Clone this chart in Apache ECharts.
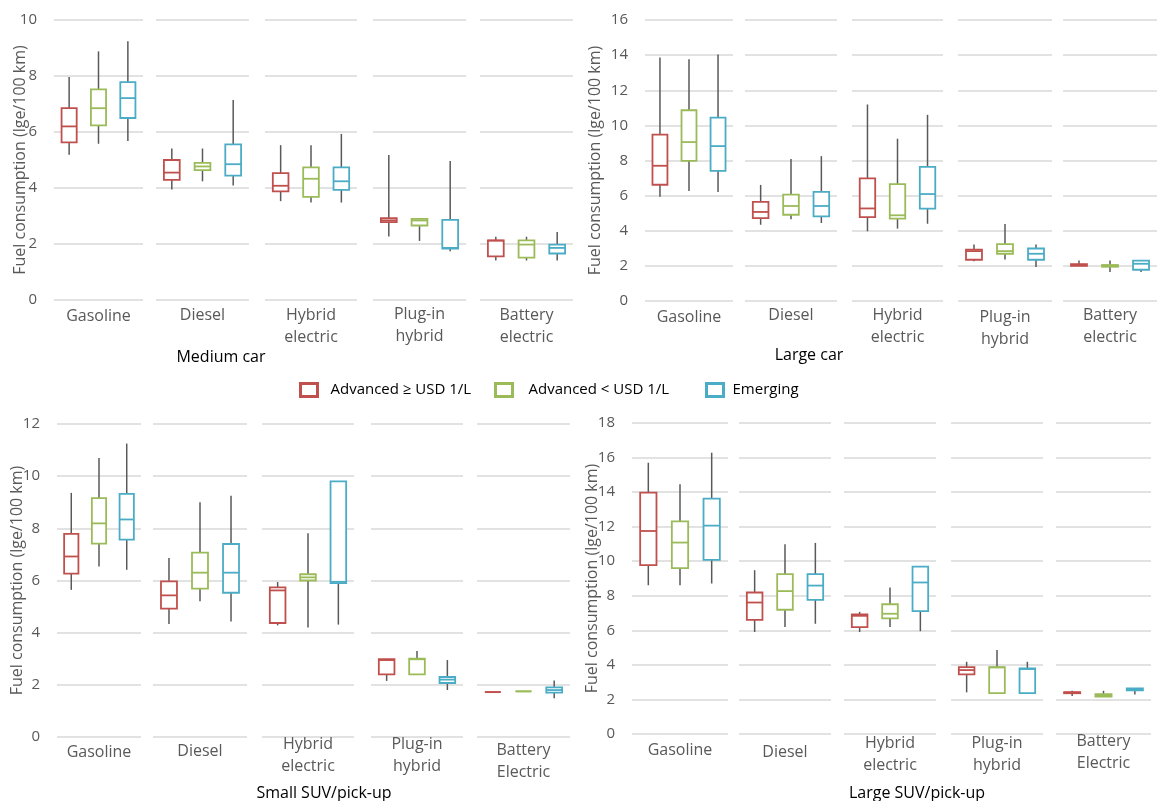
<!DOCTYPE html>
<html><head><meta charset="utf-8">
<script src="https://cdn.jsdelivr.net/npm/echarts@6/dist/echarts.min.js"></script>
<style>html,body{margin:0;padding:0;background:#fff}#c{width:1157px;height:801px}</style>
</head><body><div id="c"></div>
<script>
// ---------- DATA ----------
const categoriesCar = ['Gasoline', 'Diesel', 'Hybrid\nelectric', 'Plug-in\nhybrid', 'Battery\nelectric'];
const categoriesSuv = ['Gasoline', 'Diesel', 'Hybrid\nelectric', 'Plug-in\nhybrid', 'Battery\nElectric'];
const regions = ['Advanced ≥ USD 1/L', 'Advanced < USD 1/L', 'Emerging'];
const panelTitles = ['Medium car', 'Large car', 'Small SUV/pick-up', 'Large SUV/pick-up'];
const yAxisTitle = 'Fuel consumption (lge/100 km)';
const yMaxes = [10, 16, 12, 18];
const yInterval = 2;

// each row: [min, Q1, median, Q3, max] per category (Gasoline, Diesel, Hybrid, Plug-in, Battery)
const mediumAdvHigh = [[5.19,5.63,6.2,6.85,7.96],[3.95,4.29,4.55,5.0,5.41],[3.53,3.88,4.08,4.53,5.53],[2.27,2.78,2.84,2.92,5.18],[1.41,1.56,2.12,2.13,2.26]];
const mediumAdvLow  = [[5.58,6.24,6.85,7.52,8.88],[4.24,4.64,4.77,4.9,5.41],[3.48,3.68,4.33,4.74,5.53],[2.11,2.66,2.84,2.9,2.9],[1.41,1.51,1.98,2.13,2.26]];
const mediumEmerg   = [[5.68,6.5,7.21,7.78,9.24],[4.09,4.44,4.85,5.56,7.14],[3.48,3.93,4.24,4.74,5.93],[1.74,1.84,1.86,2.86,4.96],[1.41,1.66,1.86,1.98,2.43]];

const largeAdvHigh = [[5.93,6.62,7.7,9.47,13.86],[4.34,4.72,5.07,5.64,6.61],[3.97,4.78,5.27,6.98,11.19],[2.27,2.35,2.84,2.92,3.22],[2.0,2.0,2.05,2.1,2.3]];
const largeAdvLow  = [[6.27,7.98,9.05,10.86,13.76],[4.65,4.91,5.41,6.06,8.09],[4.12,4.69,4.88,6.65,9.24],[2.37,2.69,2.84,3.24,4.39],[1.65,1.95,2.0,2.05,2.3]];
const largeEmerg   = [[6.2,7.41,8.82,10.44,14.03],[4.44,4.82,5.41,6.21,8.25],[4.4,5.26,6.09,7.64,10.6],[1.93,2.35,2.69,2.99,3.22],[1.65,1.78,2.12,2.3,2.3]];

const smallSuvAdvHigh = [[5.64,6.26,6.92,7.79,9.36],[4.33,4.92,5.43,5.97,6.86],[4.28,4.37,5.62,5.74,5.94],[2.15,2.4,2.95,2.98,3.0],[1.72,1.72,1.72,1.72,1.72]];
const smallSuvAdvLow  = [[6.54,7.41,8.19,9.16,10.7],[5.2,5.69,6.3,7.07,9.0],[4.2,6.0,6.12,6.24,7.81],[2.4,2.4,2.98,3.0,3.3],[1.75,1.75,1.75,1.75,1.75]];
const smallSuvEmerg   = [[6.41,7.57,8.34,9.32,11.25],[4.43,5.53,6.3,7.4,9.25],[4.31,5.9,5.95,9.8,9.8],[1.8,2.07,2.2,2.3,2.95],[1.49,1.7,1.8,1.9,2.17]];

const largeSuvAdvHigh = [[8.61,9.77,11.75,13.97,15.7],[5.9,6.61,7.61,8.19,9.48],[5.9,6.19,6.84,6.92,7.07],[2.41,3.45,3.7,3.87,4.18],[2.2,2.36,2.4,2.42,2.5]];
const largeSuvAdvLow  = [[8.61,9.6,11.08,12.31,14.45],[6.2,7.19,8.27,9.25,10.98],[6.2,6.69,6.96,7.51,8.48],[2.37,2.37,3.85,3.87,4.86],[2.16,2.16,2.22,2.3,2.5]];
const largeSuvEmerg   = [[8.71,10.08,12.06,13.62,16.28],[6.38,7.76,8.59,9.25,11.06],[5.95,7.11,8.77,9.69,9.69],[2.37,2.37,3.76,3.8,4.18],[2.29,2.52,2.58,2.64,2.64]];

const panelData = [
  [mediumAdvHigh, mediumAdvLow, mediumEmerg],
  [largeAdvHigh, largeAdvLow, largeEmerg],
  [smallSuvAdvHigh, smallSuvAdvLow, smallSuvEmerg],
  [largeSuvAdvHigh, largeSuvAdvLow, largeSuvEmerg]
];
const panelCats = [categoriesCar, categoriesCar, categoriesSuv, categoriesSuv];

// ---------- LAYOUT / STYLE ----------
const FONT = '"Open Sans", "Liberation Sans", sans-serif';
const colors = ['#C0504D', '#9BBB59', '#4BACC6'];
const panelLayout = [
  {xs: [[54,143],[156,249],[265,357],[373,466],[480,573]], top: 20, bottom: 300, nameGap: 26, title: [221, 357], margins: [5,4,4,3,4]},
  {xs: [[645,733],[745,837],[852,943],[958,1052],[1063,1157]], top: 20, bottom: 301, nameGap: 42, title: [809, 355], margins: [5,3,3,5,3]},
  {xs: [[57,141],[153,247],[262,354],[371,463],[477,570]], top: 424, bottom: 737, nameGap: 32, title: [324, 793], margins: [4,3,-4,-4,2]},
  {xs: [[632,728],[739,831],[844,936],[951,1043],[1056,1151]], top: 423, bottom: 734, nameGap: 32, title: [917, 793], margins: [5,7,-2,-2,-4]}
];
const offsets = [-0.33, 0, 0.33];
const boxFrac = 0.17;

function makeRender(r) {
  const col = colors[r];
  return function (params, api) {
    const x = api.value(0);
    const band = api.size([1, 0])[0];
    const cx = api.coord([x, api.value(3)])[0] + offsets[r] * band;
    const hw = band * boxFrac / 2;
    const y = i => api.coord([x, api.value(i)])[1];
    const yMin = y(1), yQ1 = y(2), yMed = y(3), yQ3 = y(4), yMax = y(5);
    return {
      type: 'group',
      children: [
        {type: 'line', shape: {x1: cx, y1: yMin, x2: cx, y2: yMax}, style: {stroke: '#595959', lineWidth: 1.5}},
        {type: 'rect', shape: {x: cx - hw, y: yQ3, width: hw * 2, height: Math.max(yQ1 - yQ3, 0)}, style: {fill: '#fff', stroke: col, lineWidth: 1.8}},
        {type: 'line', shape: {x1: cx - hw, y1: yMed, x2: cx + hw, y2: yMed}, style: {stroke: col, lineWidth: 1.8}}
      ]
    };
  };
}

const grids = [], xAxes = [], yAxes = [], series = [];
panelLayout.forEach((pl, p) => {
  pl.xs.forEach((xr, g) => {
    const idx = grids.length;
    grids.push({left: xr[0], width: xr[1] - xr[0], top: pl.top, height: pl.bottom - pl.top, containLabel: false});
    xAxes.push({
      type: 'category', gridIndex: idx, data: [panelCats[p][g]], boundaryGap: true,
      axisLine: {show: false}, axisTick: {show: false}, splitLine: {show: false},
      axisLabel: {interval: 0, margin: pl.margins[g], color: '#595959', fontSize: 16, lineHeight: 22, fontFamily: FONT}
    });
    yAxes.push({
      type: 'value', gridIndex: idx, min: 0, max: yMaxes[p], interval: yInterval,
      axisLine: {show: false}, axisTick: {show: false},
      splitLine: {show: true, lineStyle: {color: '#d9d9d9', width: 1.5}},
      axisLabel: {show: g === 0, margin: 17, color: '#595959', fontSize: 15, fontFamily: FONT},
      name: g === 0 ? yAxisTitle : '', nameLocation: 'middle', nameGap: pl.nameGap, nameRotate: 90,
      nameMoveOverlap: false,
      nameTextStyle: {color: '#595959', fontSize: 16, fontFamily: FONT}
    });
    for (let r = 0; r < 3; r++) {
      const v = panelData[p][r][g];
      series.push({
        type: 'custom', name: regions[r], xAxisIndex: idx, yAxisIndex: idx,
        encode: {x: 0, y: [1, 2, 3, 4, 5]},
        data: [[0, v[0], v[1], v[2], v[3], v[4]]],
        renderItem: makeRender(r), clip: false, silent: true,
        itemStyle: {color: colors[r]}
      });
    }
  });
});

const legendPos = [[299, 8], [494, 11], [705, 4]];
const legends = regions.map((name, r) => ({
  data: [{name: name, icon: 'rect', itemStyle: {color: '#fff', borderColor: colors[r], borderWidth: 3}}],
  left: legendPos[r][0], top: 382, padding: 0, itemWidth: 17, itemHeight: 13, selectedMode: false,
  textStyle: {color: '#000', fontSize: 15, fontFamily: FONT, padding: [0, 0, 0, legendPos[r][1]]}
}));

const graphics = panelLayout.map((pl, p) => ({
  type: 'text', x: pl.title[0], y: pl.title[1],
  style: {text: panelTitles[p], fill: '#000', font: '16px ' + FONT, textAlign: 'center', textVerticalAlign: 'middle', align: 'center', verticalAlign: 'middle'}
}));

const chart = echarts.init(document.getElementById('c'), null, {renderer: 'canvas'});
chart.setOption({
  animation: false,
  backgroundColor: '#fff',
  grid: grids, xAxis: xAxes, yAxis: yAxes, series: series,
  legend: legends, graphic: graphics
});
</script></body></html>
